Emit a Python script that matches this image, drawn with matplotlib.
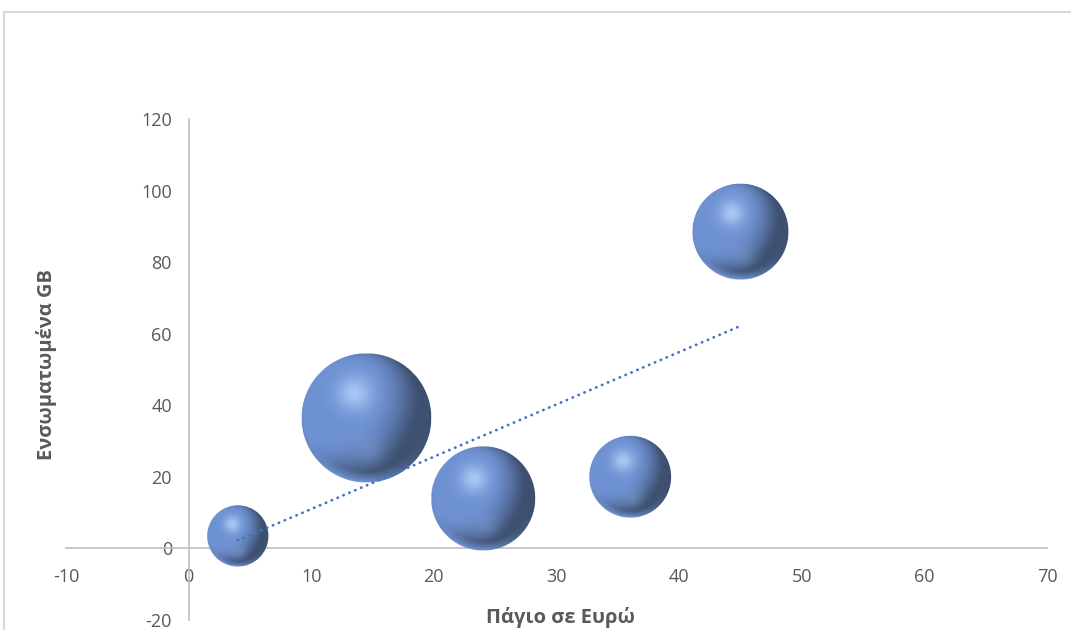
import numpy as np
import matplotlib
matplotlib.use("Agg")
import matplotlib.pyplot as plt
from matplotlib.patches import Ellipse
from matplotlib.lines import Line2D

plt.rcParams['font.family'] = ['Open Sans', 'DejaVu Sans']

# ---- data ----
x_values = [4, 14.5, 24, 36, 45]          # Πάγιο σε Ευρώ
y_values = [3.5, 36.5, 14, 20, 88.5]      # Ενσωματωμένα GB
bubble_sizes = [9, 40, 26, 16, 22]
x_ticks = [-10, 0, 10, 20, 30, 40, 50, 60, 70]
y_ticks = [-20, 0, 20, 40, 60, 80, 100, 120]
x_title = "Πάγιο σε Ευρώ"
y_title = "Ενσωματωμένα GB"

W, H, DPI = 1071, 630, 100
fig = plt.figure(figsize=(W / DPI, H / DPI), dpi=DPI)
fig.patch.set_facecolor('white')

# chart border (top and left visible)
fig.add_artist(Line2D([4 / W, 1], [1 - 12 / H, 1 - 12 / H], color='#D9D9D9', lw=1.5))
fig.add_artist(Line2D([4 / W, 4 / W], [0, 1 - 12 / H], color='#D9D9D9', lw=1.5))

ax_l, ax_r, ax_t, ax_b = 66, 1047, 119, 620
ax = fig.add_axes([ax_l / W, 1 - ax_b / H, (ax_r - ax_l) / W, (ax_b - ax_t) / H])
ax.set_xlim(x_ticks[0], x_ticks[-1])
ax.set_ylim(y_ticks[0], y_ticks[-1])

for s in ['top', 'right']:
    ax.spines[s].set_visible(False)
ax.spines['bottom'].set_position(('data', 0))
ax.spines['left'].set_position(('data', 0))
for s in ['bottom', 'left']:
    ax.spines[s].set_color('#BFBFBF')
    ax.spines[s].set_linewidth(1.2)
ax.set_xticks(x_ticks)
ax.set_yticks(y_ticks)
ax.set_xticklabels([str(v) for v in x_ticks])
ax.set_yticklabels([str(v) for v in y_ticks])
ax.tick_params(axis='x', length=0, pad=14, labelsize=13, labelcolor='#595959')
ax.tick_params(axis='y', length=0, pad=12, labelsize=13, labelcolor='#595959')

# ---- shaded sphere image ----
N = 240
u = np.linspace(-1, 1, N)
U, V = np.meshgrid(u, -u)
R2 = U ** 2 + V ** 2
R = np.sqrt(R2)
inside = R2 <= 1
Nz = np.sqrt(np.clip(1 - R2, 0, 1))
L = np.array([-0.55, 0.35, 0.76]); L = L / np.linalg.norm(L)
shade = np.clip(U * L[0] + V * L[1] + Nz * L[2], 0, 1)
dark = np.array([62, 80, 112]) / 255
mid = np.array([110, 145, 210]) / 255
t = np.clip(shade / 0.8, 0, 1)
t = t * t * (3 - 2 * t)
rgb = dark[None, None, :] + (mid - dark)[None, None, :] * t[..., None]
# specular highlight (upper-left)
hx, hy = -0.18, 0.38
spec = np.exp(-((U - hx) ** 2 + (V - hy) ** 2) / 0.07)
rgb = rgb + (np.array([178, 208, 250]) / 255 - rgb) * spec[..., None] * 0.85
# bottom rim reflection
rim = np.clip((R - 0.82) / 0.18, 0, 1) * np.clip(-V / 0.9, 0, 1) * np.clip(1 - U, 0, 1)
rgb = rgb + (np.array([125, 165, 235]) / 255 - rgb) * (rim[..., None] * 0.85)
# soft lower glow
glow = np.exp(-((U - 0.05) ** 2 + (V + 0.5) ** 2) / 0.06)
rgb = rgb + (np.array([128, 158, 210]) / 255 - rgb) * glow[..., None] * 0.4
rgb = np.clip(rgb, 0, 1)
img = np.dstack([rgb, inside.astype(float)])

max_r_px = 65.0
px_per_x = (ax_r - ax_l) / (x_ticks[-1] - x_ticks[0])
px_per_y = (ax_b - ax_t) / (y_ticks[-1] - y_ticks[0])
smax = max(bubble_sizes)
order = np.argsort(bubble_sizes)[::-1]
for i in order:
    xv, yv, sz = x_values[i], y_values[i], bubble_sizes[i]
    r_px = max_r_px * np.sqrt(sz / smax)
    rx, ry = r_px / px_per_x, r_px / px_per_y
    e = Ellipse((xv, yv), 2 * rx, 2 * ry, facecolor='none', edgecolor='none')
    ax.add_patch(e)
    im = ax.imshow(img, extent=(xv - rx, xv + rx, yv - ry, yv + ry),
                   interpolation='bilinear', zorder=3, aspect='auto')
    im.set_clip_path(e)

# ---- linear trendline ----
coef = np.polyfit(x_values, y_values, 1)
xt = np.array([min(x_values), max(x_values)])
ax.plot(xt, np.polyval(coef, xt), color='#4472C4', lw=2.0,
        linestyle=(0, (0.1, 2.2)), dash_capstyle='round', zorder=5)

ax.set_xlim(x_ticks[0], x_ticks[-1])
ax.set_ylim(y_ticks[0], y_ticks[-1])

fig.text(560 / W, 1 - 617 / H, x_title, ha='center', va='center',
         fontsize=14.5, fontweight='bold', color='#595959')
fig.text(47 / W, 1 - 365 / H, y_title, ha='center', va='center', rotation=90,
         fontsize=14.5, fontweight='bold', color='#595959')

fig.savefig('out.png', dpi=DPI)
